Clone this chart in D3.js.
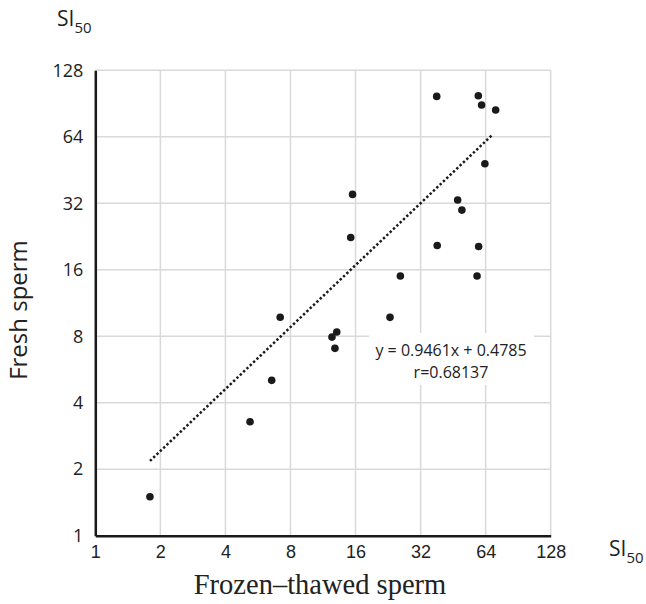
<!DOCTYPE html>
<html lang="en">

<head>
    <meta charset="UTF-8">
    <title>SI50 fresh vs frozen-thawed</title>
    <script src="https://d3js.org/d3.v7.min.js"></script>
    <style>
        body { margin: 0; background: #fff; }
    </style>
</head>

<body>
    <svg id="chart" width="646" height="604"></svg>
    <script>
        // values (SI50, both axes log2)
        const frozenThawed = [1.79, 5.2, 6.55, 7.17, 12.45, 13.1, 12.85, 23.1, 25.8, 58.4, 38.0,
            59.2, 61.3, 71.2, 63.5, 15.5, 47.5, 49.7, 15.2, 38.2, 59.4];
        const fresh = [1.50, 3.28, 5.05, 9.75, 7.93, 8.36, 7.05, 9.74, 15.0, 15.0, 97.5,
            98.2, 89.1, 84.6, 48.3, 35.1, 33.1, 29.8, 22.4, 20.6, 20.4];
        const tickValues = [1, 2, 4, 8, 16, 32, 64, 128];
        // ends of the dotted trend line
        const trendX = [1.79, 68.5];
        const trendY = [2.18, 65.1];
        const equationLines = ["y = 0.9461x + 0.4785", "r=0.68137"];

        const width = 646;
        const height = 604;
        const margin = { top: 70.3, right: 95.3, bottom: 68.3, left: 95.3 };

        const svg = d3.select("#chart");

        const xScale = d3.scaleLog().base(2)
            .domain([1, 128])
            .range([margin.left, width - margin.right]);
        const yScale = d3.scaleLog().base(2)
            .domain([1, 128])
            .range([height - margin.bottom, margin.top]);

        // grid
        const grid = svg.append("g").attr("stroke", "#d9d9d9").attr("stroke-width", 1.5);
        grid.selectAll(".gx").data(tickValues.slice(1)).enter().append("line")
            .attr("x1", d => xScale(d)).attr("x2", d => xScale(d))
            .attr("y1", yScale(1)).attr("y2", yScale(128));
        grid.selectAll(".gy").data(tickValues.slice(1)).enter().append("line")
            .attr("y1", d => yScale(d)).attr("y2", d => yScale(d))
            .attr("x1", xScale(1)).attr("x2", xScale(128));

        // axes
        svg.append("g")
            .attr("transform", `translate(0,${yScale(1)})`)
            .call(d3.axisBottom(xScale).tickValues(tickValues).tickFormat(d3.format("d")).tickSize(0).tickPadding(10))
            .call(g => g.select(".domain").attr("stroke", "#1a1a1a").attr("stroke-width", 2.5))
            .call(g => g.selectAll("text")
                .style("font-family", "'Liberation Sans', Arial, sans-serif")
                .style("font-size", "18px").attr("fill", "#222"));

        svg.append("g")
            .attr("transform", `translate(${xScale(1)},0)`)
            .call(d3.axisLeft(yScale).tickValues(tickValues).tickFormat(d3.format("d")).tickSize(0).tickPadding(12))
            .call(g => g.select(".domain").attr("stroke", "#1a1a1a").attr("stroke-width", 2.5))
            .call(g => g.selectAll("text")
                .style("font-family", "'Open Sans', sans-serif")
                .style("font-size", "18px").attr("fill", "#222"));

        // trend line
        svg.append("line")
            .attr("x1", xScale(trendX[0])).attr("y1", yScale(trendY[0]))
            .attr("x2", xScale(trendX[1])).attr("y2", yScale(trendY[1]))
            .attr("stroke", "#1a1a1a")
            .attr("stroke-width", 2.5)
            .attr("stroke-dasharray", "2.4 2.2");

        // points
        svg.append("g").selectAll("circle")
            .data(frozenThawed.map((x, i) => ({ x: x, y: fresh[i] })))
            .enter().append("circle")
            .attr("cx", d => xScale(d.x))
            .attr("cy", d => yScale(d.y))
            .attr("r", 3.8)
            .attr("fill", "#1a1a1a");

        // equation label
        const eq = svg.append("g").attr("transform", "translate(451,0)");
        eq.append("rect")
            .attr("x", -82).attr("y", 333).attr("width", 165).attr("height", 52)
            .attr("fill", "#fff");
        eq.selectAll("text").data(equationLines).enter().append("text")
            .attr("x", 0)
            .attr("y", (d, i) => 356 + i * 22)
            .attr("text-anchor", "middle")
            .style("font-family", "'Open Sans', sans-serif")
            .style("font-size", "16px")
            .attr("fill", "#222")
            .text(d => d);

        // SI50 unit labels
        function unitLabel(x, y) {
            const t = svg.append("text")
                .attr("x", x).attr("y", y)
                .style("font-family", "'Open Sans', sans-serif")
                .attr("fill", "#222");
            t.append("tspan").style("font-size", "21px").text("SI");
            t.append("tspan").style("font-size", "15px").attr("dy", 7).text("50");
        }
        unitLabel(57, 26);
        unitLabel(609, 556);

        // axis titles
        svg.append("text")
            .attr("transform", `translate(27,310) rotate(-90)`)
            .attr("text-anchor", "middle")
            .style("font-family", "'Open Sans', sans-serif")
            .style("font-size", "24px")
            .attr("fill", "#222")
            .text("Fresh sperm");

        svg.append("text")
            .attr("x", 320).attr("y", 594)
            .attr("text-anchor", "middle")
            .style("font-family", "'Liberation Serif', 'Times New Roman', serif")
            .style("font-size", "28.5px")
            .attr("fill", "#222")
            .text("Frozen–thawed sperm");
    </script>
</body>

</html>
